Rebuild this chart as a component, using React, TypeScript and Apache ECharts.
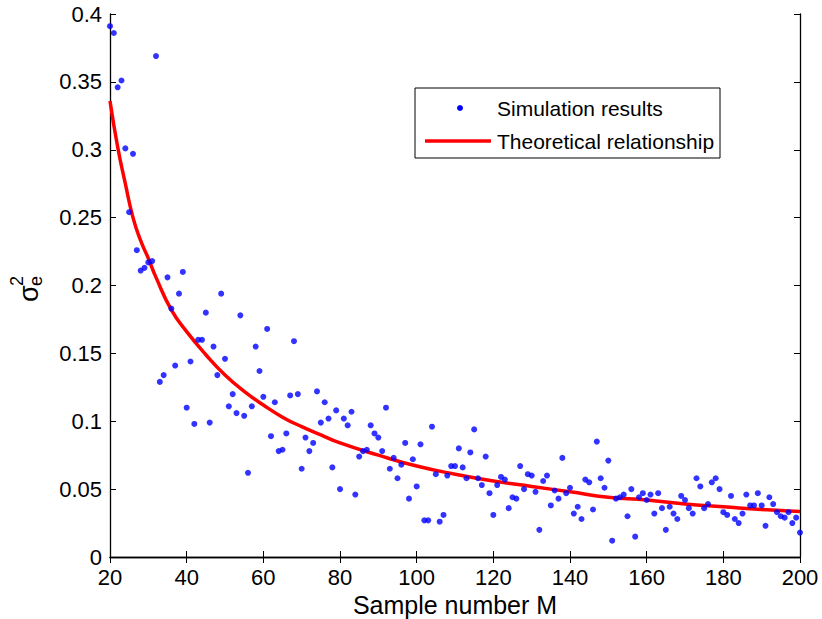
import React, { useEffect, useRef } from "react";
import * as echarts from "echarts";

// Simulation results: one value per sample number M, starting at M = 20 (through 200)
const simStartM = 20;
const simValues = [
  0.391, 0.386, 0.346, 0.351, 0.301, 0.254, 0.297, 0.226, 0.211, 0.213,
  0.217, 0.218, 0.369, 0.129, 0.134, 0.206, 0.183, 0.141, 0.194, 0.21,
  0.11, 0.144, 0.098, 0.16, 0.16, 0.18, 0.099, 0.155, 0.134, 0.194,
  0.146, 0.111, 0.12, 0.106, 0.178, 0.104, 0.062, 0.111, 0.155, 0.137,
  0.118, 0.168, 0.089, 0.114, 0.078, 0.079, 0.091, 0.119, 0.159, 0.12,
  0.065, 0.088, 0.078, 0.084, 0.122, 0.099, 0.114, 0.102, 0.066, 0.108,
  0.05, 0.102, 0.097, 0.107, 0.046, 0.074, 0.078, 0.079, 0.097, 0.091,
  0.088, 0.078, 0.11, 0.065, 0.073, 0.058, 0.068, 0.084, 0.043, 0.072,
  0.052, 0.083, 0.027, 0.027, 0.096, 0.061, 0.026, 0.031, 0.06, 0.067,
  0.067, 0.08, 0.066, 0.058, 0.077, 0.094, 0.058, 0.053, 0.074, 0.047,
  0.031, 0.053, 0.059, 0.057, 0.036, 0.044, 0.043, 0.067, 0.05, 0.061,
  0.06, 0.048, 0.02, 0.056, 0.06, 0.038, 0.049, 0.043, 0.073, 0.047,
  0.051, 0.032, 0.037, 0.028, 0.057, 0.055, 0.035, 0.085, 0.058, 0.051,
  0.071, 0.012, 0.043, 0.044, 0.046, 0.03, 0.05, 0.015, 0.044, 0.047,
  0.042, 0.046, 0.032, 0.047, 0.036, 0.02, 0.037, 0.032, 0.028, 0.045,
  0.042, 0.036, 0.032, 0.058, 0.052, 0.036, 0.039, 0.055, 0.058, 0.05,
  0.033, 0.031, 0.045, 0.028, 0.025, 0.032, 0.046, 0.038, 0.038, 0.047,
  0.038, 0.023, 0.044, 0.039, 0.033, 0.03, 0.029, 0.033, 0.025, 0.029,
  0.018,
];

// Theoretical relationship
const theoryM = [20, 22, 24, 26, 28, 30, 32, 36, 40, 45, 50, 55, 60, 65, 70, 75, 80, 90, 100, 110, 120, 130, 140, 150, 160, 170, 180, 190, 200];
const theoryValues = [0.336, 0.302, 0.275, 0.25, 0.233, 0.22, 0.206, 0.182, 0.166, 0.149, 0.134, 0.122, 0.112, 0.103, 0.096, 0.09, 0.084, 0.075, 0.067, 0.061, 0.056, 0.052, 0.048, 0.044, 0.042, 0.039, 0.037, 0.035, 0.0335];

const legendLabels = ["Simulation results", "Theoretical relationship"];
const xAxisTitle = "Sample number M";

const FONT = "'Liberation Sans', Arial, Helvetica, sans-serif";

export default function App() {
  const ref = useRef<HTMLDivElement>(null);

  useEffect(() => {
    if (!ref.current) return;
    const chart = echarts.init(ref.current, undefined, { renderer: "svg" });

    const simData = simValues.map((v, i) => [simStartM + i, v]);
    const theoryData = theoryM.map((m, i) => [m, theoryValues[i]]);

    const axisCommon = {
      axisLine: { show: true, lineStyle: { color: "#000", width: 1.3 } },
      axisTick: { show: true, inside: true, length: 6, lineStyle: { color: "#000", width: 1 } },
      splitLine: { show: false },
    };

    chart.setOption({
      animation: false,
      backgroundColor: "#fff",
      grid: { left: 110, right: 22, top: 14, bottom: 62, containLabel: false, outerBoundsMode: "none" },
      xAxis: [
        {
          type: "value",
          min: 20,
          max: 200,
          interval: 20,
          position: "bottom",
          ...axisCommon,
          axisLabel: { color: "#000", fontSize: 22, fontFamily: FONT, margin: 9 },
          name: xAxisTitle,
          nameLocation: "middle",
          nameGap: 34,
          nameTextStyle: { color: "#000", fontSize: 25, fontFamily: FONT },
        },
        {
          type: "value",
          min: 20,
          max: 200,
          interval: 20,
          position: "top",
          ...axisCommon,
          axisLabel: { show: false },
        },
      ],
      yAxis: [
        {
          type: "value",
          min: 0,
          max: 0.4,
          interval: 0.05,
          position: "left",
          ...axisCommon,
          axisLabel: { color: "#000", fontSize: 22, fontFamily: FONT, margin: 8 },
        },
        {
          type: "value",
          min: 0,
          max: 0.4,
          interval: 0.05,
          position: "right",
          ...axisCommon,
          axisLabel: { show: false },
        },
      ],
      series: [
        {
          name: legendLabels[1],
          type: "line",
          data: theoryData,
          smooth: true,
          symbol: "none",
          lineStyle: { color: "#ff0000", width: 3.5 },
          z: 2,
        },
        {
          name: legendLabels[0],
          type: "scatter",
          data: simData,
          symbol: "circle",
          symbolSize: 6,
          itemStyle: { color: "#0000ff" },
          z: 3,
        },
      ],
      graphic: [
        {
          type: "rect",
          shape: { x: 415, y: 88, width: 305, height: 70 },
          style: { fill: "#fff", stroke: "#000", lineWidth: 1 },
          z: 10,
        },
        {
          type: "circle",
          shape: { cx: 460, cy: 108, r: 3 },
          style: { fill: "#0000ff" },
          z: 11,
        },
        {
          type: "text",
          x: 497,
          y: 108,
          style: { text: legendLabels[0], fill: "#000", fontSize: 21, fontFamily: FONT, verticalAlign: "middle", align: "left" },
          z: 11,
        },
        {
          type: "line",
          shape: { x1: 425, y1: 141, x2: 491, y2: 141 },
          style: { stroke: "#ff0000", lineWidth: 3.5 },
          z: 11,
        },
        {
          type: "text",
          x: 497,
          y: 141,
          style: { text: legendLabels[1], fill: "#000", fontSize: 21, fontFamily: FONT, verticalAlign: "middle", align: "left" },
          z: 11,
        },
        {
          type: "group",
          x: 42,
          y: 302,
          rotation: Math.PI / 2,
          children: [
            {
              type: "text",
              x: 0,
              y: 0,
              style: { text: "σ", fill: "#000", fontSize: 27, fontFamily: FONT, verticalAlign: "bottom", align: "left" },
            },
            {
              type: "text",
              x: 16,
              y: 3,
              style: { text: "e", fill: "#000", fontSize: 18, fontFamily: FONT, verticalAlign: "bottom", align: "left" },
            },
            {
              type: "text",
              x: 16,
              y: -16,
              style: { text: "2", fill: "#000", fontSize: 18, fontFamily: FONT, verticalAlign: "bottom", align: "left" },
            },
          ],
        },
      ],
    });

    return () => chart.dispose();
  }, []);

  return (
    <div
      ref={ref}
      style={{ position: "fixed", left: 0, top: 0, width: 822, height: 619, background: "#fff" }}
    />
  );
}
